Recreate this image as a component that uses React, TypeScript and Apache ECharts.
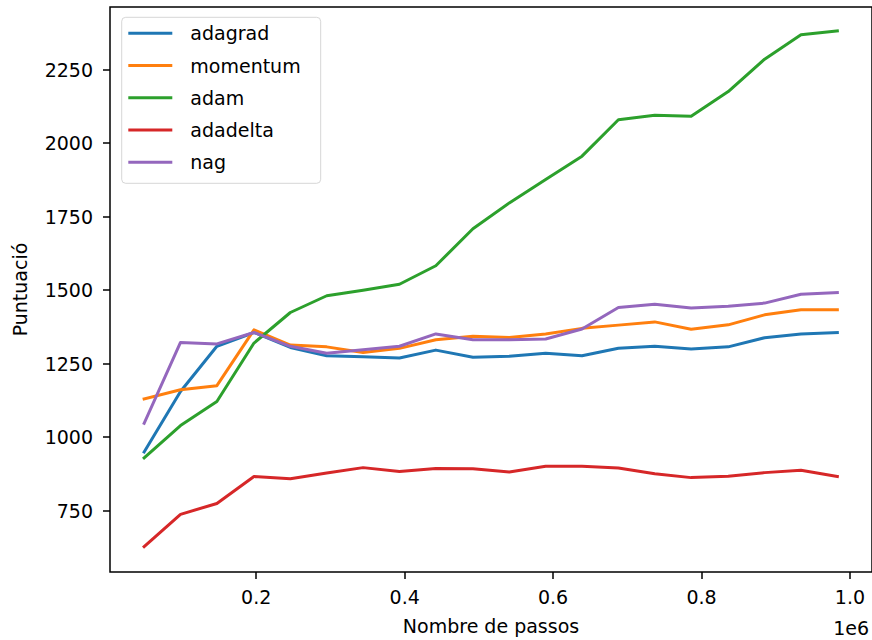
import React, { useEffect, useRef } from "react";
import * as echarts from "echarts";

const steps = [0.049, 0.098, 0.147, 0.197, 0.246, 0.295, 0.344, 0.393, 0.442, 0.492, 0.541, 0.590, 0.639, 0.688, 0.737, 0.786, 0.836, 0.885, 0.934, 0.983];

const adagrad = [949, 1155, 1309, 1356, 1305, 1277, 1273, 1269, 1296, 1272, 1275, 1285, 1277, 1302, 1309, 1300, 1307, 1338, 1351, 1356];
const momentum = [1130, 1161, 1175, 1365, 1313, 1307, 1288, 1302, 1331, 1343, 1339, 1351, 1370, 1381, 1392, 1367, 1382, 1416, 1433, 1433];
const adam = [929, 1039, 1121, 1320, 1424, 1481, 1500, 1520, 1583, 1709, 1797, 1877, 1956, 2080, 2095, 2092, 2176, 2286, 2369, 2382];
const adadelta = [627, 737, 774, 866, 858, 878, 896, 883, 893, 892, 881, 901, 901, 895, 875, 862, 867, 879, 887, 866];
const nag = [1047, 1322, 1317, 1356, 1309, 1285, 1297, 1309, 1351, 1331, 1331, 1334, 1368, 1441, 1452, 1439, 1445, 1456, 1486, 1492];

const seriesNames = ["adagrad", "momentum", "adam", "adadelta", "nag"];
const seriesValues = [adagrad, momentum, adam, adadelta, nag];
const colors = ["#1f77b4", "#ff7f0e", "#2ca02c", "#d62728", "#9467bd"];

const xTicks = [0.2, 0.4, 0.6, 0.8, 1.0];
const yTicks = [750, 1000, 1250, 1500, 1750, 2000, 2250];

const FONT = "DejaVu Sans";

export default function App() {
  const ref = useRef<HTMLDivElement>(null);
  useEffect(() => {
    if (!ref.current) return;
    const chart = echarts.init(ref.current, undefined, { renderer: "svg" });
    chart.setOption({
      animation: false,
      backgroundColor: "#ffffff",
      textStyle: { fontFamily: FONT },
      grid: {
        left: 110,
        top: 7,
        width: 763.6,
        height: 567,
        show: true,
        borderColor: "#000",
        borderWidth: 1.5,
        backgroundColor: "transparent",
      },
      xAxis: {
        type: "value",
        min: 0.003,
        max: 1.0297,
        name: "Nombre de passos",
        nameLocation: "middle",
        nameGap: 44,
        nameTextStyle: { fontFamily: FONT, fontSize: 19, color: "#000" },
        axisLine: { show: false },
        splitLine: { show: false },
        axisTick: {
          show: true,
          length: 7,
          lineStyle: { color: "#000", width: 1.5 },
          customValues: xTicks,
        },
        axisLabel: {
          fontFamily: FONT,
          fontSize: 19,
          color: "#000",
          margin: 15.5,
          customValues: xTicks,
          formatter: (v: number) => v.toFixed(1),
        },
      },
      yAxis: {
        type: "value",
        min: 540.8,
        max: 2463.7,
        name: "Puntuació",
        nameLocation: "middle",
        nameGap: 81,
        nameTextStyle: { fontFamily: FONT, fontSize: 19, color: "#000" },
        axisLine: { show: false },
        splitLine: { show: false },
        axisTick: {
          show: true,
          length: 7,
          lineStyle: { color: "#000", width: 1.5 },
          customValues: yTicks,
        },
        axisLabel: {
          fontFamily: FONT,
          fontSize: 19,
          color: "#000",
          margin: 17,
          customValues: yTicks,
          formatter: (v: number) => String(Math.round(v)),
        },
      },
      legend: {
        orient: "vertical",
        left: 121.7,
        top: 17.3,
        icon: "rect",
        itemWidth: 44,
        itemHeight: 3,
        itemGap: 13.25,
        padding: [6.5, 20, 11.5, 6.6],
        backgroundColor: "rgba(255,255,255,0.8)",
        borderColor: "rgba(204,204,204,0.8)",
        borderWidth: 1,
        borderRadius: 4,
        textStyle: {
          fontFamily: FONT,
          fontSize: 19,
          lineHeight: 19,
          color: "#000",
          padding: [0, 0, 0, 13],
        },
        data: seriesNames,
      },
      graphic: [
        {
          type: "text",
          right: 3,
          top: 618,
          style: {
            text: "1e6",
            fontFamily: FONT,
            fontSize: 19,
            fill: "#000",
          },
        },
      ],
      series: seriesNames.map((name, i) => ({
        name,
        type: "line",
        symbol: "none",
        showSymbol: false,
        color: colors[i],
        lineStyle: { color: colors[i], width: 3, join: "round", cap: "square" },
        data: steps.map((s, j) => [s, seriesValues[i][j]]),
      })),
    });
    return () => chart.dispose();
  }, []);
  return (
    <div
      ref={ref}
      style={{ position: "fixed", left: 0, top: 0, width: 872, height: 640 }}
    />
  );
}
